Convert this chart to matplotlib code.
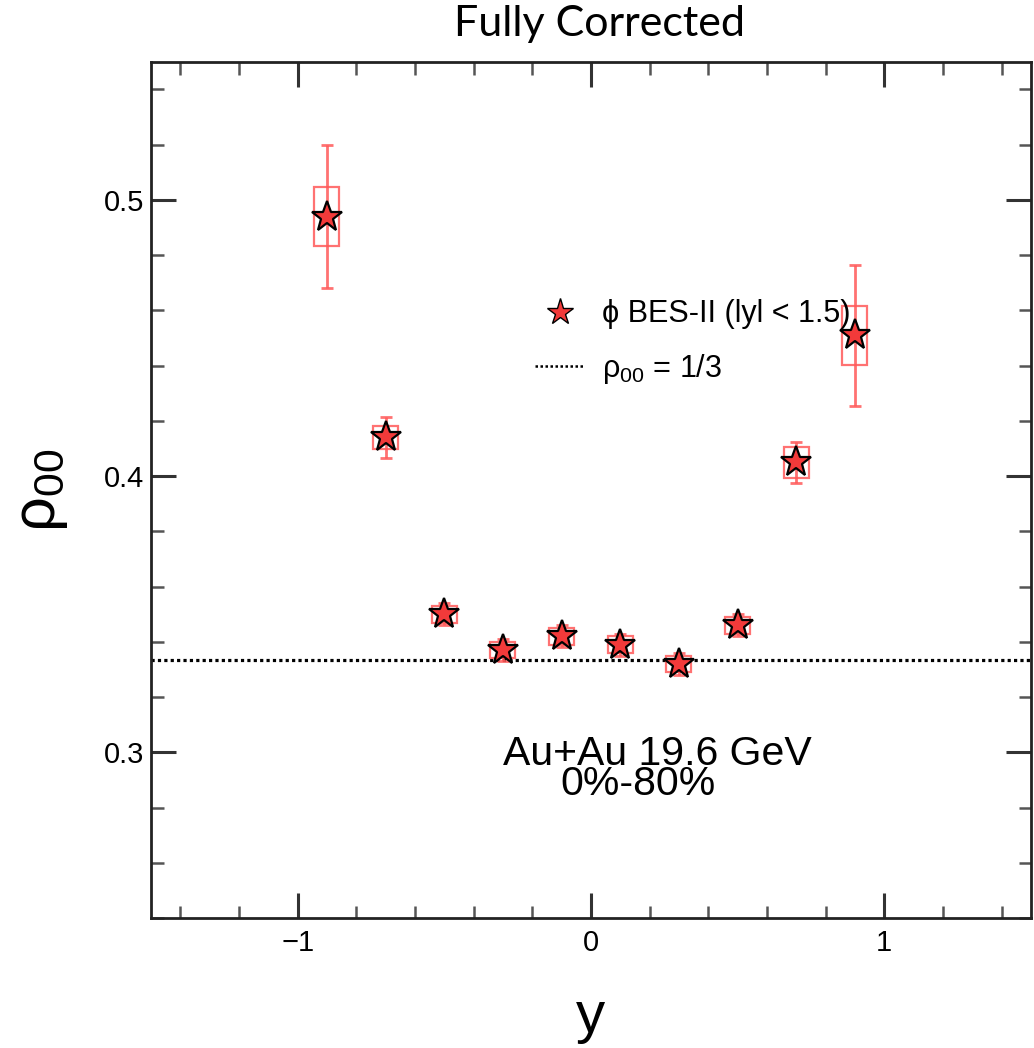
import matplotlib
matplotlib.use("Agg")
import matplotlib.pyplot as plt
from matplotlib.lines import Line2D
from matplotlib.legend_handler import HandlerLine2D
from matplotlib.ticker import MultipleLocator, FixedLocator

plt.rcParams['font.family'] = ['Liberation Sans', 'DejaVu Sans']
plt.rcParams['mathtext.fontset'] = 'custom'
plt.rcParams['mathtext.rm'] = 'Liberation Sans'
plt.rcParams['mathtext.it'] = 'Liberation Sans:italic'

# ---- data ----
rapidity = [-0.9, -0.7, -0.5, -0.3, -0.1, 0.1, 0.3, 0.5, 0.7, 0.9]
rho00 = [0.494, 0.414, 0.350, 0.337, 0.342, 0.339, 0.332, 0.346, 0.405, 0.451]
stat_err = [0.026, 0.0075, 0.004, 0.004, 0.004, 0.004, 0.004, 0.004, 0.0075, 0.0255]
sys_err = [0.0107, 0.004, 0.003, 0.003, 0.003, 0.003, 0.003, 0.003, 0.0055, 0.0107]
rho_ref = 1.0 / 3.0
x_ticks = [-1, 0, 1]
y_ticks = [0.3, 0.4, 0.5]


class RightMarkerHandler(HandlerLine2D):
    def get_xdata(self, legend, xdescent, ydescent, width, height, fontsize):
        xdata, _ = super().get_xdata(legend, xdescent, ydescent, width, height, fontsize)
        return xdata, [-xdescent + 0.9 * width]


fig = plt.figure(figsize=(10.34, 10.48), dpi=100)
ax = fig.add_axes([0.146, 0.124, 0.851, 0.817])

red_line = (1.0, 0.35, 0.35, 0.85)

# systematic boxes
bottoms = [v - s for v, s in zip(rho00, sys_err)]
heights = [2 * s for s in sys_err]
ax.bar(rapidity, heights, bottom=bottoms, width=0.085, fill=False,
       edgecolor=red_line, linewidth=1.6, zorder=3)
# statistical error bars
ax.errorbar(rapidity, rho00, yerr=stat_err, fmt='none', ecolor=red_line,
            elinewidth=2.0, capsize=4, capthick=2.0, zorder=4)
# reference line
ax.axhline(rho_ref, color='black', linestyle=(0, (1, 1)), linewidth=2.3, zorder=2)
# markers
ax.plot(rapidity, rho00, linestyle='none', marker='*', markersize=23,
        markerfacecolor='#f23a3a', markeredgecolor='black', markeredgewidth=1.6, zorder=5)

ax.set_xlim(-1.5, 1.5)
ax.set_ylim(0.24, 0.55)
ax.xaxis.set_major_locator(FixedLocator(x_ticks))
ax.yaxis.set_major_locator(FixedLocator(y_ticks))
ax.xaxis.set_minor_locator(MultipleLocator(0.2))
ax.yaxis.set_minor_locator(MultipleLocator(0.02))
ax.set_xticklabels(['\u22121', '0', '1'])
ax.set_yticklabels(['0.3', '0.4', '0.5'])
ax.tick_params(which='both', direction='in', top=True, right=True, labelsize=21)
ax.tick_params(axis='x', which='both', pad=8)
ax.tick_params(axis='y', which='both', pad=5)
ax.tick_params(which='major', length=18, width=2.2, color='#333333')
ax.tick_params(which='minor', length=9, width=1.8, color='#555555')
for sp in ax.spines.values():
    sp.set_linewidth(2.0)
    sp.set_color('#222222')

ax.set_xlabel('y', fontsize=42, labelpad=24)
ax.set_ylabel('\u03c1$_{00}$', fontsize=44, labelpad=24)

# legend
h_star = Line2D([], [], linestyle='none', marker='*', markersize=20,
                markerfacecolor='#f23a3a', markeredgecolor='black', markeredgewidth=1.0)
h_line = Line2D([], [], color='black', linestyle=(0, (1, 1)), linewidth=1.8)
leg = ax.legend([h_star, h_line],
                ['\u03d5 BES-II (lyl < 1.5)', '\u03c1$_{00}$ = 1/3'],
                loc='center left', bbox_to_anchor=(0.405, 0.672), frameon=False,
                fontsize=22, handlelength=1.65, handletextpad=0.55, labelspacing=0.75,
                handler_map={h_star: RightMarkerHandler()})

ax.text(0.576, 0.179, 'Au+Au 19.6 GeV', transform=ax.transAxes, ha='center',
        va='baseline', fontsize=29.5)
ax.text(0.553, 0.144, '0%-80%', transform=ax.transAxes, ha='center',
        va='baseline', fontsize=29.5)

fig.text(0.58, 1 - 24 / 1048, 'Fully Corrected', ha='center', va='center',
         fontsize=31, family=['Lato', 'DejaVu Sans'])

fig.savefig('out.png', dpi=100)
